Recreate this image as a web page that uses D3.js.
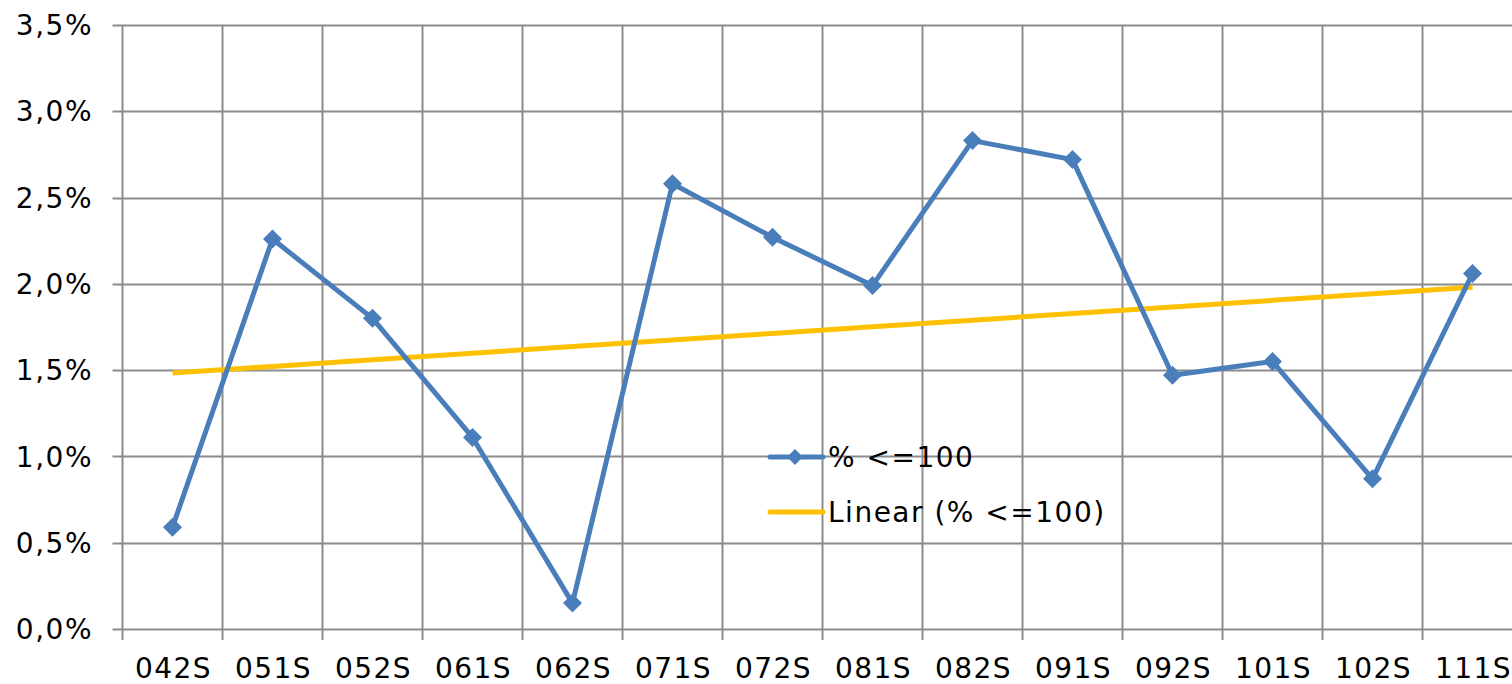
<!DOCTYPE html>
<html><head><meta charset="utf-8">
<script src="https://cdn.jsdelivr.net/npm/d3@7"></script>
<style>
html,body{margin:0;padding:0;background:#fff;overflow:hidden;}
svg{display:block;}
text{font-family:"DejaVu Sans",Verdana,sans-serif;fill:#000;}
</style></head>
<body>
<svg id="chart" width="1512" height="684"></svg>
<script>
const categories = ["042S","051S","052S","061S","062S","071S","072S","081S","082S","091S","092S","101S","102S","111S"];
const values = [0.59,2.26,1.80,1.11,0.15,2.58,2.27,1.99,2.83,2.72,1.47,1.55,0.87,2.06];
const yTicks = [0,0.5,1.0,1.5,2.0,2.5,3.0,3.5];
const seriesName = "% <=100";
const trendName = "Linear (% <=100)";

(function () {
const svg = d3.select("#chart");
const pL = 122.5, pR = 1522.5, pT = 25, pB = 629;
const x = d3.scaleBand().domain(categories).range([pL, pR]);
const y = d3.scaleLinear().domain([0, 3.5]).range([pB, pT]);
const fmt = v => d3.format(".1f")(v).replace(".", ",") + "%";
const grid = "#8c8c8c";

// horizontal gridlines
svg.append("g").selectAll("line").data(yTicks).join("line")
  .attr("x1", pL - 10).attr("x2", pR)
  .attr("y1", d => Math.round(y(d)) + 0.5).attr("y2", d => Math.round(y(d)) + 0.5)
  .attr("stroke", grid).attr("stroke-width", 2);

// vertical gridlines at band boundaries
const bounds = categories.map(c => x(c)).concat([pR]);
svg.append("g").selectAll("line").data(bounds).join("line")
  .attr("x1", d => d).attr("x2", d => d)
  .attr("y1", pT).attr("y2", pB + 11)
  .attr("stroke", grid).attr("stroke-width", 2);

// y labels
svg.append("g").selectAll("text").data(yTicks).join("text")
  .attr("x", 93).attr("y", d => y(d))
  .attr("dy", "0.36em").attr("text-anchor", "end")
  .attr("font-size", 28).attr("letter-spacing", 1.5)
  .text(fmt);

// x labels
svg.append("g").selectAll("text").data(categories).join("text")
  .attr("x", d => x(d) + x.bandwidth() / 2 + 1).attr("y", 668)
  .attr("dy", "0.36em").attr("text-anchor", "middle")
  .attr("font-size", 28).attr("letter-spacing", 1.5)
  .text(d => d);

// linear trend (least squares on the series)
const n = values.length;
const xs = d3.range(1, n + 1);
const mx = d3.mean(xs), my = d3.mean(values);
const slope = d3.sum(xs, (xi, i) => (xi - mx) * (values[i] - my)) / d3.sum(xs, xi => (xi - mx) ** 2);
const icpt = my - slope * mx;
const trend = xs.map(xi => icpt + slope * xi);
const cx = c => x(c) + x.bandwidth() / 2;

svg.append("path")
  .attr("d", d3.line().x((d, i) => cx(categories[i])).y(d => y(d))(trend))
  .attr("fill", "none").attr("stroke", "#ffc000").attr("stroke-width", 5);

// series line
svg.append("path")
  .attr("d", d3.line().x((d, i) => cx(categories[i])).y(d => y(d))(values))
  .attr("fill", "none").attr("stroke", "#4a7ebb").attr("stroke-width", 5)
  .attr("stroke-linejoin", "round");

const diamond = d3.symbol().type(d3.symbolDiamond2).size(230);
svg.append("g").selectAll("path").data(values).join("path")
  .attr("transform", (d, i) => `translate(${cx(categories[i])},${y(d)})`)
  .attr("d", diamond).attr("fill", "#4a7ebb");

// legend
const lg = svg.append("g");
lg.append("line").attr("x1", 770).attr("x2", 823).attr("y1", 457).attr("y2", 457)
  .attr("stroke", "#4a7ebb").attr("stroke-width", 5).attr("stroke-linecap", "round");
lg.append("path").attr("transform", "translate(795,457)").attr("d", d3.symbol().type(d3.symbolDiamond2).size(160)).attr("fill", "#4a7ebb");
lg.append("text").attr("x", 828).attr("y", 457).attr("dy", "0.36em")
  .attr("font-size", 28).attr("letter-spacing", 1.5).text(seriesName);
lg.append("line").attr("x1", 770).attr("x2", 823).attr("y1", 512).attr("y2", 512)
  .attr("stroke", "#ffc000").attr("stroke-width", 5).attr("stroke-linecap", "round");
lg.append("text").attr("x", 828).attr("y", 512).attr("dy", "0.36em")
  .attr("font-size", 28).attr("letter-spacing", 1.5).text(trendName);
})();
</script>
</body></html>
